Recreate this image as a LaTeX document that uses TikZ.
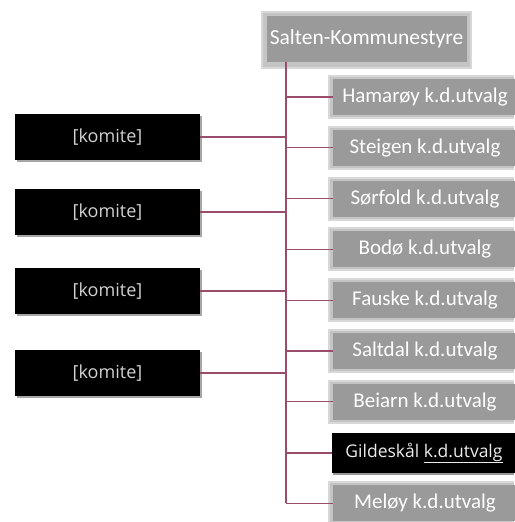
\documentclass[tikz,border=0pt]{standalone}
\usepackage{fontspec}
\setmainfont{Carlito}
\newfontfamily\osans{Open Sans}
\usetikzlibrary{positioning}
\definecolor{linec}{HTML}{9A4D6B}
\definecolor{boxg}{HTML}{9A9A9A}
\definecolor{shadg}{HTML}{D8D8D8}
\definecolor{shadh}{HTML}{C4C4C4}
\tikzset{
  graybox/.style={fill=boxg, text=white, minimum width=184pt, minimum height=36pt,
    inner sep=0pt, font=\fontsize{21}{24}\selectfont},
  blackbox/.style={fill=black, text=white!82!black, minimum width=185pt, minimum height=46pt,
    inner sep=0pt, font=\osans\fontsize{18}{20}\selectfont},
  conn/.style={draw=linec, line width=1.2pt},
}
\begin{document}
\begin{tikzpicture}[x=1pt,y=-1pt]
\useasboundingbox (0,0) rectangle (514,522);
% top box
\fill[shadg] (261,11) rectangle (472,69);
\fill[shadh] (263,13) rectangle (470,67);
\node[graybox, minimum width=200pt, minimum height=46pt, font=\fontsize{21.5}{24}\selectfont] (top) at (366.5,39) {Salten-Kommunestyre};
% spine
\coordinate (s0) at (286,62);
\coordinate (send) at (286,503);
\draw[conn] (s0) -- (send);
% right boxes
\foreach \i/\name/\txt in {0/ham/Hamarøy k.d.utvalg,1/ste/Steigen k.d.utvalg,2/sor/Sørfold k.d.utvalg,3/bod/Bodø k.d.utvalg,4/fau/Fauske k.d.utvalg,5/sal/Saltdal k.d.utvalg,6/bei/Beiarn k.d.utvalg,8/mel/Meløy k.d.utvalg}{
  \pgfmathsetmacro{\yy}{97+50.8*\i}
  \fill[shadg] (328,\yy-22) rectangle (514,\yy+22);
  \fill[shadh] (330,\yy-20) rectangle (514,\yy+20);
  \node[graybox] (\name) at (425,\yy) {\txt};
  \coordinate (j\name) at (286,\yy);
  \draw[conn] (j\name) -- (\name.west);
}
% Gildeskål
\fill[black!40] (333,434) rectangle (514,475);
\node[fill=black, text=white!92!black, minimum width=184pt, minimum height=40pt, inner sep=0pt,
  font=\osans\fontsize{17.5}{20}\selectfont] (gil) at (424,453) {Gildeskål \underline{k.d.utvalg}};
\coordinate (jgil) at (286,453);
\draw[conn] (jgil) -- (gil.west);
% komite boxes
\foreach \i/\yy in {1/137,2/212,3/291,4/373}{
  \fill[black!35] (17,\yy-21) rectangle (202,\yy+25);
  \node[blackbox] (k\i) at (107.5,\yy) {[komite]};
  \coordinate (jk\i) at (286,\yy);
  \draw[conn] (k\i.east) -- (jk\i);
}
\end{tikzpicture}
\end{document}
